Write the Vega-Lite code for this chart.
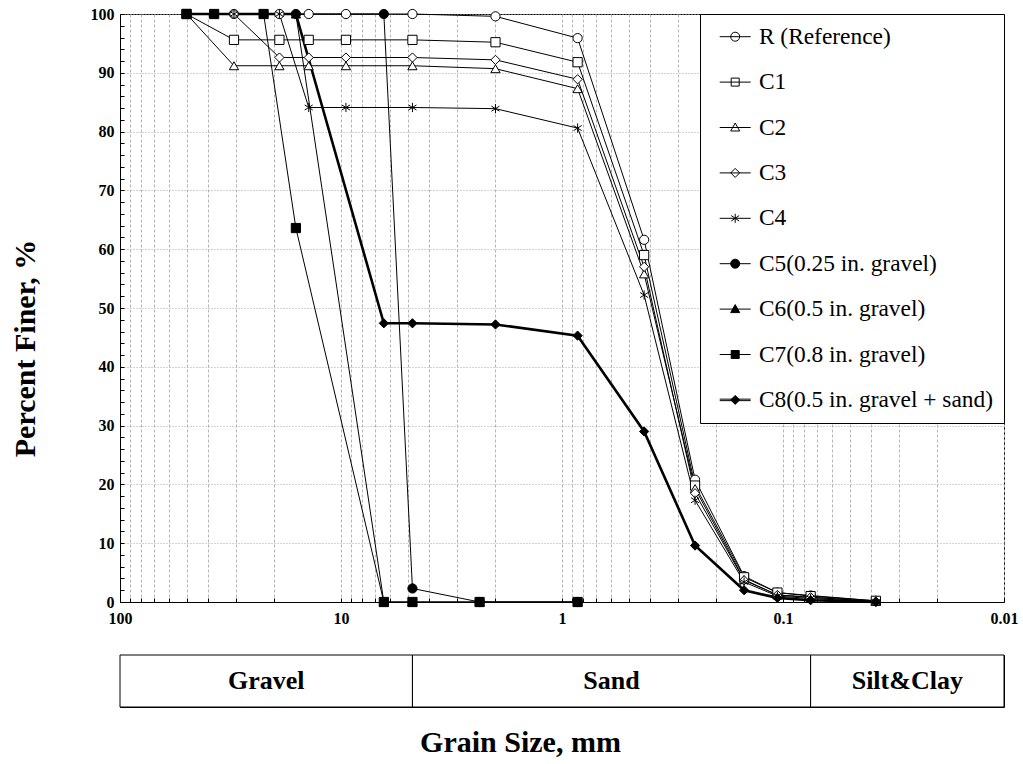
{
  "$schema": "https://vega.github.io/schema/vega-lite/v6.json",
  "padding": {"left": 9, "top": 5, "right": 5, "bottom": 5},
  "bounds": "flush",
  "spacing": 53,
  "config": {
    "font": "Liberation Serif",
    "view": {"stroke": "black", "strokeWidth": 1},
    "axis": {"labelColor": "black", "titleColor": "black", "domainColor": "black", "tickColor": "black"}
  },
  "datasets": {
    "sieve": [
      {"series": "R (Reference)", "size": 30.5, "pct": 100},
      {"series": "R (Reference)", "size": 19, "pct": 100},
      {"series": "R (Reference)", "size": 14, "pct": 100},
      {"series": "R (Reference)", "size": 9.5, "pct": 100},
      {"series": "R (Reference)", "size": 4.75, "pct": 100},
      {"series": "R (Reference)", "size": 2, "pct": 99.6},
      {"series": "R (Reference)", "size": 0.85, "pct": 95.9},
      {"series": "R (Reference)", "size": 0.425, "pct": 61.6},
      {"series": "R (Reference)", "size": 0.25, "pct": 20.8},
      {"series": "R (Reference)", "size": 0.15, "pct": 4.4},
      {"series": "R (Reference)", "size": 0.106, "pct": 1.6},
      {"series": "R (Reference)", "size": 0.075, "pct": 1.1},
      {"series": "R (Reference)", "size": 0.038, "pct": 0.2},
      {"series": "C1", "size": 50, "pct": 100},
      {"series": "C1", "size": 30.5, "pct": 95.6},
      {"series": "C1", "size": 19, "pct": 95.6},
      {"series": "C1", "size": 14, "pct": 95.6},
      {"series": "C1", "size": 9.5, "pct": 95.6},
      {"series": "C1", "size": 4.75, "pct": 95.6},
      {"series": "C1", "size": 2, "pct": 95.2},
      {"series": "C1", "size": 0.85, "pct": 91.8},
      {"series": "C1", "size": 0.425, "pct": 59.0},
      {"series": "C1", "size": 0.25, "pct": 19.8},
      {"series": "C1", "size": 0.15, "pct": 4.2},
      {"series": "C1", "size": 0.106, "pct": 1.6},
      {"series": "C1", "size": 0.075, "pct": 1.0},
      {"series": "C1", "size": 0.038, "pct": 0.2},
      {"series": "C2", "size": 50, "pct": 100},
      {"series": "C2", "size": 30.5, "pct": 91.2},
      {"series": "C2", "size": 19, "pct": 91.2},
      {"series": "C2", "size": 14, "pct": 91.2},
      {"series": "C2", "size": 9.5, "pct": 91.2},
      {"series": "C2", "size": 4.75, "pct": 91.2},
      {"series": "C2", "size": 2, "pct": 90.7},
      {"series": "C2", "size": 0.85, "pct": 87.3},
      {"series": "C2", "size": 0.425, "pct": 55.8},
      {"series": "C2", "size": 0.25, "pct": 19.3},
      {"series": "C2", "size": 0.15, "pct": 3.8},
      {"series": "C2", "size": 0.106, "pct": 1.2},
      {"series": "C2", "size": 0.075, "pct": 0.8},
      {"series": "C2", "size": 0.038, "pct": 0.1},
      {"series": "C3", "size": 50, "pct": 100},
      {"series": "C3", "size": 30.5, "pct": 100},
      {"series": "C3", "size": 19, "pct": 92.6},
      {"series": "C3", "size": 14, "pct": 92.6},
      {"series": "C3", "size": 9.5, "pct": 92.6},
      {"series": "C3", "size": 4.75, "pct": 92.6},
      {"series": "C3", "size": 2, "pct": 92.2},
      {"series": "C3", "size": 0.85, "pct": 88.9},
      {"series": "C3", "size": 0.425, "pct": 57.0},
      {"series": "C3", "size": 0.25, "pct": 18.5},
      {"series": "C3", "size": 0.15, "pct": 3.7},
      {"series": "C3", "size": 0.106, "pct": 1.2},
      {"series": "C3", "size": 0.075, "pct": 0.8},
      {"series": "C3", "size": 0.038, "pct": 0.1},
      {"series": "C4", "size": 50, "pct": 100},
      {"series": "C4", "size": 30.5, "pct": 100},
      {"series": "C4", "size": 19, "pct": 100},
      {"series": "C4", "size": 14, "pct": 84.1},
      {"series": "C4", "size": 9.5, "pct": 84.1},
      {"series": "C4", "size": 4.75, "pct": 84.1},
      {"series": "C4", "size": 2, "pct": 83.9},
      {"series": "C4", "size": 0.85, "pct": 80.6},
      {"series": "C4", "size": 0.425, "pct": 52.2},
      {"series": "C4", "size": 0.25, "pct": 17.3},
      {"series": "C4", "size": 0.15, "pct": 3.4},
      {"series": "C4", "size": 0.106, "pct": 1.0},
      {"series": "C4", "size": 0.075, "pct": 0.6},
      {"series": "C4", "size": 0.038, "pct": 0.0},
      {"series": "C6(0.5 in. gravel)", "size": 16, "pct": 100},
      {"series": "C6(0.5 in. gravel)", "size": 6.4, "pct": 0},
      {"series": "C6(0.5 in. gravel)", "size": 4.75, "pct": 0},
      {"series": "C6(0.5 in. gravel)", "size": 2.36, "pct": 0},
      {"series": "C6(0.5 in. gravel)", "size": 0.85, "pct": 0},
      {"series": "C8(0.5 in. gravel + sand)", "size": 50, "pct": 100},
      {"series": "C8(0.5 in. gravel + sand)", "size": 16, "pct": 100},
      {"series": "C8(0.5 in. gravel + sand)", "size": 6.4, "pct": 47.4},
      {"series": "C8(0.5 in. gravel + sand)", "size": 4.75, "pct": 47.4},
      {"series": "C8(0.5 in. gravel + sand)", "size": 2, "pct": 47.2},
      {"series": "C8(0.5 in. gravel + sand)", "size": 0.85, "pct": 45.3},
      {"series": "C8(0.5 in. gravel + sand)", "size": 0.425, "pct": 29.0},
      {"series": "C8(0.5 in. gravel + sand)", "size": 0.25, "pct": 9.6},
      {"series": "C8(0.5 in. gravel + sand)", "size": 0.15, "pct": 2.0},
      {"series": "C8(0.5 in. gravel + sand)", "size": 0.106, "pct": 0.7},
      {"series": "C8(0.5 in. gravel + sand)", "size": 0.075, "pct": 0.3},
      {"series": "C8(0.5 in. gravel + sand)", "size": 0.038, "pct": 0.0},
      {"series": "C5(0.25 in. gravel)", "size": 16, "pct": 100},
      {"series": "C5(0.25 in. gravel)", "size": 6.4, "pct": 100},
      {"series": "C5(0.25 in. gravel)", "size": 4.75, "pct": 2.3},
      {"series": "C5(0.25 in. gravel)", "size": 2.36, "pct": 0},
      {"series": "C5(0.25 in. gravel)", "size": 0.85, "pct": 0},
      {"series": "C7(0.8 in. gravel)", "size": 50, "pct": 100},
      {"series": "C7(0.8 in. gravel)", "size": 37.5, "pct": 100},
      {"series": "C7(0.8 in. gravel)", "size": 22.4, "pct": 100},
      {"series": "C7(0.8 in. gravel)", "size": 16, "pct": 63.6},
      {"series": "C7(0.8 in. gravel)", "size": 6.4, "pct": 0},
      {"series": "C7(0.8 in. gravel)", "size": 4.75, "pct": 0},
      {"series": "C7(0.8 in. gravel)", "size": 2.36, "pct": 0},
      {"series": "C7(0.8 in. gravel)", "size": 0.85, "pct": 0}
    ],
    "band": [
      {"zone": "Gravel", "from": 100, "to": 4.75, "mid": 21.79},
      {"zone": "Sand", "from": 4.75, "to": 0.075, "mid": 0.597},
      {"zone": "Silt&Clay", "from": 0.075, "to": 0.01, "mid": 0.02739}
    ]
  },
  "vconcat": [
    {
      "width": 884,
      "height": 588,
      "data": {"name": "sieve"},
      "layer": [
        {
          "mark": {"type": "line", "color": "black"},
          "encoding": {
            "x": {
              "field": "size", "type": "quantitative",
              "scale": {"type": "log", "domain": [0.01, 100], "reverse": true, "nice": false},
              "axis": {
                "title": null,
                "values": [100, 90, 80, 70, 60, 50, 40, 30, 20, 10, 9, 8, 7, 6, 5, 4, 3, 2, 1, 0.9, 0.8, 0.7, 0.6, 0.5, 0.4, 0.3, 0.2, 0.1, 0.09, 0.08, 0.07, 0.06, 0.05, 0.04, 0.03, 0.02, 0.01],
                "tickCount": 500,
                "format": "~g",
                "labelExpr": "(datum.value == 100 || datum.value == 10 || datum.value == 1 || datum.value == 0.1 || datum.value == 0.01) ? datum.label : ''",
                "labelOverlap": false,
                "labelFlush": false,
                "labelFont": "Liberation Serif",
                "labelFontSize": 16,
                "labelFontWeight": "bold",
                "labelPadding": 12,
                "tickSize": -4,
                "grid": true,
                "gridColor": "#b4b4b4",
                "gridDash": [3, 2],
                "gridWidth": 1
              }
            },
            "y": {
              "field": "pct", "type": "quantitative",
              "scale": {"domain": [0, 100], "nice": false},
              "axis": {
                "title": "Percent Finer, %",
                "values": [0, 2, 4, 6, 8, 10, 12, 14, 16, 18, 20, 22, 24, 26, 28, 30, 32, 34, 36, 38, 40, 42, 44, 46, 48, 50, 52, 54, 56, 58, 60, 62, 64, 66, 68, 70, 72, 74, 76, 78, 80, 82, 84, 86, 88, 90, 92, 94, 96, 98, 100],
                "tickCount": 500,
                "format": "d",
                "labelExpr": "datum.value % 10 == 0 ? datum.label : ''",
                "labelOverlap": false,
                "labelFont": "Liberation Serif",
                "labelFontSize": 16,
                "labelFontWeight": "bold",
                "labelPadding": 10,
                "tickSize": -4,
                "grid": true,
                "gridColor": "#a8a8a8",
                "gridDash": [1, 2],
                "gridOpacity": {"condition": {"test": "datum.value % 10 == 0", "value": 1}, "value": 0},
                "titleFont": "Liberation Serif",
                "titleFontSize": 30,
                "titleFontWeight": "bold",
                "titleAngle": -90,
                "titleAlign": "center",
                "titleBaseline": "middle",
                "titleX": -95,
                "titleY": 334
              }
            },
            "detail": {"field": "series"},
            "strokeWidth": {"condition": {"test": "datum.series === 'C8(0.5 in. gravel + sand)'", "value": 2.6}, "value": 1}
          }
        },
        {
          "mark": {"type": "point", "filled": true, "stroke": "black", "strokeWidth": 1, "size": 85, "opacity": 1},
          "encoding": {
            "x": {"field": "size", "type": "quantitative"},
            "y": {"field": "pct", "type": "quantitative"},
            "shape": {
              "field": "series", "type": "nominal",
              "scale": {
                "domain": ["R (Reference)", "C1", "C2", "C3", "C4", "C5(0.25 in. gravel)", "C6(0.5 in. gravel)", "C7(0.8 in. gravel)", "C8(0.5 in. gravel + sand)"],
                "range": ["circle", "square", "triangle-up", "diamond", "M0,-1L0,1M-0.87,-0.55L0.87,0.55M-0.87,0.55L0.87,-0.55", "circle", "triangle-up", "square", "diamond"]
              },
              "legend": null
            },
            "fill": {
              "field": "series", "type": "nominal",
              "scale": {
                "domain": ["R (Reference)", "C1", "C2", "C3", "C4", "C5(0.25 in. gravel)", "C6(0.5 in. gravel)", "C7(0.8 in. gravel)", "C8(0.5 in. gravel + sand)"],
                "range": ["white", "white", "white", "white", "white", "black", "black", "black", "black"]
              },
              "legend": null
            }
          }
        },
        {
          "transform": [{"filter": "datum.pct > 1000"}],
          "mark": {"type": "point", "filled": true, "strokeWidth": 1, "opacity": 1},
          "encoding": {
            "x": {"field": "size", "type": "quantitative"},
            "y": {"field": "pct", "type": "quantitative"},
            "shape": {
              "field": "series", "type": "nominal",
              "scale": {
                "domain": ["R (Reference)", "C1", "C2", "C3", "C4", "C5(0.25 in. gravel)", "C6(0.5 in. gravel)", "C7(0.8 in. gravel)", "C8(0.5 in. gravel + sand)"],
                "range": [
                  "M-3.1,0L3.1,0M-0.9,0A0.9,0.9,0,1,1,0.9,0A0.9,0.9,0,1,1,-0.9,0Z",
                  "M-3.1,0L3.1,0M-0.8,-0.8L0.8,-0.8L0.8,0.8L-0.8,0.8Z",
                  "M-3.1,0L3.1,0M0,-0.9L0.9,0.7L-0.9,0.7Z",
                  "M-3.1,0L3.1,0M0,-0.9L0.9,0L0,0.9L-0.9,0Z",
                  "M-3.1,0L3.1,0M0,-0.9L0,0.9M-0.8,-0.55L0.8,0.55M-0.8,0.55L0.8,-0.55",
                  "M-3.1,0L3.1,0M-0.9,0A0.9,0.9,0,1,1,0.9,0A0.9,0.9,0,1,1,-0.9,0Z",
                  "M-3.1,0L3.1,0M0,-0.9L0.9,0.7L-0.9,0.7Z",
                  "M-3.1,0L3.1,0M-0.8,-0.8L0.8,-0.8L0.8,0.8L-0.8,0.8Z",
                  "M-3.1,-0.15L3.1,-0.15M-3.1,0.15L3.1,0.15M0,-0.9L0.9,0L0,0.9L-0.9,0Z"
                ]
              },
              "legend": {
                "title": null, "orient": "top-right", "offset": 0,
                "fillColor": "white", "strokeColor": "black", "padding": 11,
                "labelFont": "Liberation Serif", "labelFontSize": 23.4, "labelColor": "black",
                "labelOffset": 12, "symbolOffset": 12.5, "labelLimit": 400,
                "symbolSize": 100, "symbolStrokeWidth": 1,
                "rowPadding": 20.4
              }
            },
            "fill": {
              "field": "series", "type": "nominal",
              "scale": {
                "domain": ["R (Reference)", "C1", "C2", "C3", "C4", "C5(0.25 in. gravel)", "C6(0.5 in. gravel)", "C7(0.8 in. gravel)", "C8(0.5 in. gravel + sand)"],
                "range": ["white", "white", "white", "white", "white", "black", "black", "black", "black"]
              },
              "legend": {
                "title": null, "orient": "top-right", "offset": 0,
                "fillColor": "white", "strokeColor": "black", "padding": 11,
                "labelFont": "Liberation Serif", "labelFontSize": 23.4, "labelColor": "black",
                "labelOffset": 12, "symbolOffset": 12.5, "labelLimit": 400,
                "symbolSize": 100, "symbolStrokeWidth": 1,
                "rowPadding": 20.4
              }
            },
            "stroke": {
              "field": "series", "type": "nominal",
              "scale": {
                "domain": ["R (Reference)", "C1", "C2", "C3", "C4", "C5(0.25 in. gravel)", "C6(0.5 in. gravel)", "C7(0.8 in. gravel)", "C8(0.5 in. gravel + sand)"],
                "range": ["black", "black", "black", "black", "black", "black", "black", "black", "black"]
              },
              "legend": {
                "title": null, "orient": "top-right", "offset": 0,
                "fillColor": "white", "strokeColor": "black", "padding": 11,
                "labelFont": "Liberation Serif", "labelFontSize": 23.4, "labelColor": "black",
                "labelOffset": 12, "symbolOffset": 12.5, "labelLimit": 400,
                "symbolSize": 100, "symbolStrokeWidth": 1,
                "rowPadding": 20.4
              }
            }
          }
        }
      ],
      "resolve": {"scale": {"shape": "independent", "fill": "independent", "stroke": "independent"}}
    },
    {
      "width": 884,
      "height": 52,
      "data": {"name": "band"},
      "layer": [
        {
          "mark": {"type": "rect", "fill": "white", "stroke": "black", "strokeWidth": 1},
          "encoding": {
            "x": {
              "field": "from", "type": "quantitative",
              "scale": {"type": "log", "domain": [0.01, 100], "reverse": true, "nice": false},
              "axis": {
                "title": "Grain Size, mm",
                "labels": false, "ticks": false, "domain": false, "grid": false,
                "titleFont": "Liberation Serif", "titleFontSize": 30, "titleFontWeight": "bold",
                "titleX": 400, "titleY": 44, "titleBaseline": "alphabetic", "titleAlign": "center"
              }
            },
            "x2": {"field": "to"}
          }
        },
        {
          "mark": {"type": "text", "font": "Liberation Serif", "fontSize": 26, "fontWeight": "bold", "color": "black"},
          "encoding": {
            "x": {"field": "mid", "type": "quantitative"},
            "text": {"field": "zone"}
          }
        }
      ]
    }
  ]
}
